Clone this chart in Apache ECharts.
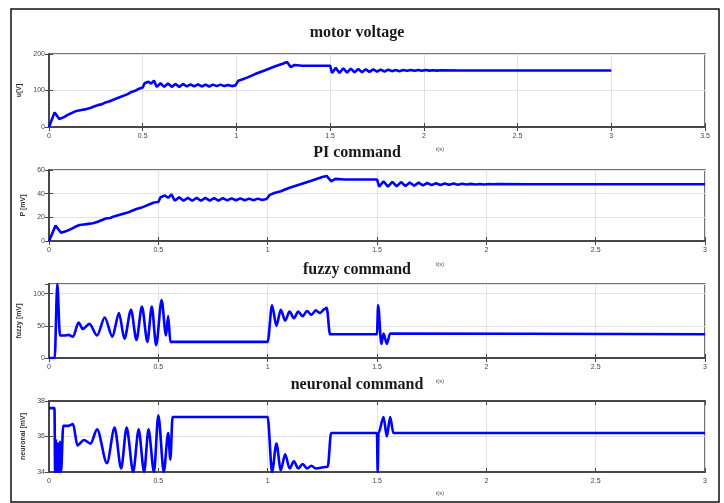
<!DOCTYPE html>
<html>
<head>
<meta charset="utf-8">
<script src="https://cdn.jsdelivr.net/npm/echarts@6/dist/echarts.min.js"></script>
<style>
html,body{margin:0;padding:0;background:#fff;}
#c{width:724px;height:503px;}
</style>
</head>
<body>
<div id="c"></div>
<script>
// ---- data (time in s) ----
const motorVoltage = [
 [0,0],[0.03,40],[0.055,22],[0.08,27],[0.1,33],[0.12,38],[0.14,43],[0.16,45],[0.18,47],[0.2,49],
 [0.22,52],[0.24,56],[0.26,60],[0.28,62],[0.3,67],[0.32,70],[0.34,74],[0.36,78],[0.38,82],[0.4,86],
 [0.42,90],[0.44,96],[0.46,99],[0.48,105],[0.5,108],[0.51,120],[0.53,124],[0.545,119],[0.56,127],
 [0.575,110],[0.595,120],[0.615,110],[0.635,119],[0.655,110],[0.675,118],[0.695,110],[0.715,118],
 [0.735,111],[0.755,117],[0.775,111],[0.795,117],[0.815,111],[0.835,116],[0.855,111],[0.875,116],
 [0.895,112],[0.915,116],[0.935,112],[0.955,115],[0.975,112],[0.995,114],[1.0,114],[1.01,127],
 [1.03,130],[1.06,136],[1.1,145],[1.15,155],[1.2,165],[1.25,174],[1.27,178],[1.29,164],[1.31,170],
 [1.35,168],[1.5,168],[1.51,148],[1.53,162],[1.55,148],[1.57,161],[1.59,149],[1.61,160],[1.63,150],
 [1.65,159],[1.67,150],[1.69,158],[1.71,151],[1.73,158],[1.75,152],[1.77,157],[1.79,152],[1.81,157],
 [1.83,153],[1.85,156],[1.87,153],[1.89,156],[1.91,154],[1.93,156],[1.95,154],[1.97,156],[1.99,154],
 [2.01,156],[2.03,154.5],[2.05,155.5],[2.07,154.5],[2.09,155.5],[2.2,155],[3,155]
];
const piCommand = [
 [0,0],[0.03,13],[0.055,7],[0.08,8.5],[0.1,10],[0.12,12],[0.14,13.5],[0.16,14],[0.18,14.5],[0.2,15],
 [0.22,16],[0.24,17.5],[0.26,19],[0.28,19.5],[0.3,21],[0.32,22],[0.34,23],[0.36,24],[0.38,25.5],[0.4,27],
 [0.42,28],[0.44,29.5],[0.46,31],[0.48,32.5],[0.5,33],[0.51,37],[0.53,38.5],[0.545,36.5],[0.56,39.5],
 [0.575,34],[0.595,37],[0.615,34],[0.635,36.5],[0.655,34],[0.675,36.5],[0.695,34],[0.715,36.5],
 [0.735,34.2],[0.755,36.3],[0.775,34.2],[0.795,36.2],[0.815,34.3],[0.835,36],[0.855,34.4],[0.875,36],
 [0.895,34.5],[0.915,35.8],[0.935,34.5],[0.955,35.8],[0.975,34.6],[0.995,35.5],[1.0,35.5],[1.01,39],
 [1.03,40.5],[1.06,42],[1.1,45],[1.15,48],[1.2,51],[1.25,54],[1.27,55],[1.29,50.5],[1.31,52.5],
 [1.35,52],[1.5,52],[1.51,46],[1.53,50.5],[1.55,46],[1.57,50],[1.59,46.3],[1.61,49.8],[1.63,46.5],
 [1.65,49.5],[1.67,46.7],[1.69,49.3],[1.71,47],[1.73,49],[1.75,47.2],[1.77,48.8],[1.79,47.4],[1.81,48.6],
 [1.83,47.5],[1.85,48.5],[1.87,47.6],[1.89,48.4],[1.91,47.7],[1.93,48.3],[1.95,47.8],[1.97,48.2],
 [1.99,47.8],[2.01,48.2],[2.03,47.9],[2.05,48.1],[2.2,48],[3,48]
];
const fuzzyCommand = [
 [0,0],[0.026,0],[0.038,115],[0.05,35],[0.07,35],[0.09,36],[0.11,33],[0.135,55],[0.155,45],[0.185,53],
 [0.22,35],[0.255,63],[0.29,33],[0.32,70],[0.345,30],[0.375,75],[0.40,28],[0.425,80],[0.45,25],
 [0.47,80],[0.49,20],[0.515,90],[0.535,35],[0.545,65],[0.555,25],[1.0,25],[1.02,82],[1.04,50],
 [1.06,75],[1.08,58],[1.1,72],[1.12,62],[1.14,72],[1.16,65],[1.18,73],[1.2,67],[1.22,74],[1.24,70],
 [1.26,76],[1.27,78],[1.285,37],[1.5,37],[1.505,82],[1.52,22],[1.53,38],[1.545,22],[1.56,38],[3,37]
];
const neuronalCommand = [
 [0,37.6],[0.025,37.6],[0.028,34],[0.032,35.8],[0.036,34],[0.04,35.6],[0.045,34],[0.05,35.7],[0.055,34],
 [0.065,36.6],[0.09,36.6],[0.11,36.7],[0.13,35.5],[0.16,35.8],[0.19,35.6],[0.22,36.4],[0.265,34.5],
 [0.3,36.5],[0.33,34.2],[0.355,36.5],[0.385,34],[0.41,36.4],[0.435,34],[0.455,36.4],[0.48,34],
 [0.5,37.2],[0.525,34],[0.545,36.2],[0.555,34.7],[0.565,37.1],[1.0,37.1],[1.02,34],[1.04,35.6],
 [1.06,34.1],[1.08,35],[1.1,34.2],[1.12,34.6],[1.14,34.2],[1.16,34.45],[1.18,34.2],[1.2,34.35],
 [1.22,34.2],[1.275,34.3],[1.29,36.2],[1.5,36.2],[1.503,34],[1.507,36.2],[1.53,37.1],[1.545,36],
 [1.56,37.1],[1.575,36.2],[3,36.2]
];
const titles = ['motor voltage','PI command','fuzzy command','neuronal command'];
const yNames = ['u[V]','P [mV]','fuzzy [mV]','neuronal [mV]'];
const xNames = ['t(s)','t(s)','t(s)','t(s)'];
const xMax = [3.5,3,3,3];
const yMin = [0,0,0,34];
const yMax = [200,60,115,38];
const yStep = [100,20,50,2];

// ---- layout ----
const gridTop = [54,170,284,401];
const gridH = [73,71,74,71];
const titleY = [33,153,270,385];
const xNameY = [149,264,381,493];
const smoothing = [0,0,0.3,0.3];
const series = [motorVoltage, piCommand, fuzzyCommand, neuronalCommand];

const frame = '#474747';
const grids = [], xAxes = [], yAxes = [], ser = [], graphics = [];
for (let i = 0; i < 4; i++) {
  grids.push({left:49, width:656, top:gridTop[i], height:gridH[i], show:true,
    borderColor:frame, borderWidth:1.5, backgroundColor:'#fff'});
  xAxes.push({type:'value', gridIndex:i, min:0, max:xMax[i], interval:0.5, position:'bottom',
    axisLine:{show:true, lineStyle:{color:frame, width:1.8}},
    axisTick:{show:true, inside:true, length:4, lineStyle:{color:frame, width:1}},
    axisLabel:{fontSize:7, color:'#444', margin:6, fontFamily:'Liberation Sans'},
    splitLine:{show:true, lineStyle:{color:'#e2e2e2', width:1}}});
  xAxes.push({type:'value', gridIndex:i, min:0, max:xMax[i], interval:0.5, position:'top',
    axisLine:{show:true, lineStyle:{color:frame, width:1.8}},
    axisTick:{show:true, inside:true, length:4, lineStyle:{color:frame, width:1}},
    axisLabel:{show:false}, splitLine:{show:false}});
  yAxes.push({type:'value', gridIndex:i, min:yMin[i], max:yMax[i], interval:yStep[i], position:'left',
    name:yNames[i], nameLocation:'middle', nameGap:17, nameRotate:90,
    nameTextStyle:{fontSize:7, color:'#333', fontWeight:'bold', fontFamily:'Liberation Sans'},
    axisLine:{show:true, lineStyle:{color:frame, width:1.8}},
    axisTick:{show:true, inside:true, length:4, lineStyle:{color:frame, width:1}},
    axisLabel:{fontSize:7, color:'#444', margin:4, showMaxLabel: i===2 ? false : true, fontFamily:'Liberation Sans'},
    splitLine:{show:true, lineStyle:{color:'#e2e2e2', width:1}}});
  yAxes.push({type:'value', gridIndex:i, min:yMin[i], max:yMax[i], interval:yStep[i], position:'right',
    axisLine:{show:true, lineStyle:{color:frame, width:1.8}},
    axisTick:{show:true, inside:true, length:4, lineStyle:{color:frame, width:1}},
    axisLabel:{show:false}, splitLine:{show:false}});
  ser.push({type:'line', xAxisIndex:2*i, yAxisIndex:2*i, data:series[i], showSymbol:false,
    symbol:'none', smooth:smoothing[i], smoothMonotone:'x',
    lineStyle:{color:'#0000ff', width:2.6}, animation:false, z:3});
  graphics.push({type:'text', x:357, y:titleY[i], style:{text:titles[i], fill:'#1a1a1a',
    font:'bold 16px "Liberation Serif"', textAlign:'center', textVerticalAlign:'middle'}});
  graphics.push({type:'text', x:440, y:xNameY[i], style:{text:xNames[i], fill:'#555',
    font:'6px "Liberation Sans"', textAlign:'center', textVerticalAlign:'middle'}});
}
graphics.push({type:'rect', shape:{x:11, y:9, width:708, height:493},
  style:{fill:'none', stroke:'#111', lineWidth:1.5}, z:-1});

const chart = echarts.init(document.getElementById('c'), null, {renderer:'canvas'});
chart.setOption({
  animation:false,
  backgroundColor:'#fff',
  grid:grids, xAxis:xAxes, yAxis:yAxes, series:ser, graphic:graphics
});
</script>
</body>
</html>
